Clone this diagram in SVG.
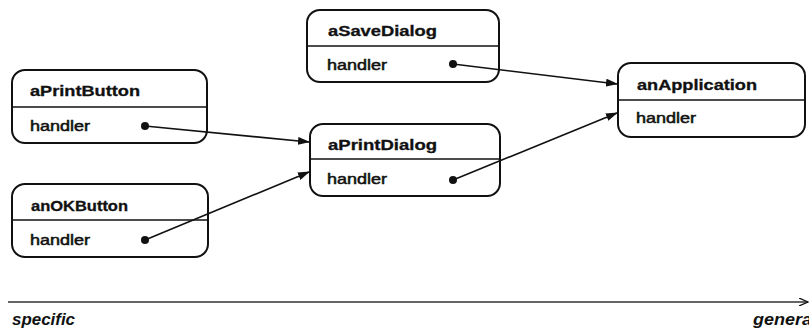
<svg xmlns="http://www.w3.org/2000/svg" width="809" height="331" viewBox="0 0 809 331">
<style>
.box{fill:#fff;stroke:#111;stroke-width:2}
.div{stroke:#111;stroke-width:1.5}
.title{font-family:"Liberation Sans",Arial,sans-serif;font-weight:bold;font-size:14px;fill:#111;stroke:#111;stroke-width:0.3}
.attr{font-family:"Liberation Sans",Arial,sans-serif;font-size:14px;fill:#111;stroke:#111;stroke-width:0.5}
.dot{fill:#111}
.conn{stroke:#111;stroke-width:1.6;fill:none}
.axislbl{font-family:"Liberation Sans",Arial,sans-serif;font-weight:bold;font-style:italic;font-size:16px;fill:#111}
</style>
<defs>
<marker id="ah" markerWidth="12" markerHeight="8" refX="11" refY="4" orient="auto" markerUnits="userSpaceOnUse">
<path d="M0,0 L12,4 L0,8 Z" fill="#111"/>
</marker>
<marker id="ah2" markerWidth="10" markerHeight="8" refX="9" refY="4" orient="auto" markerUnits="userSpaceOnUse">
<path d="M0,0 L9,4 L0,8" fill="none" stroke="#111" stroke-width="1.3"/>
</marker>
</defs>
<rect width="809" height="331" fill="#fff"/>
<g id="aPrintButton">
<rect class="box" x="12" y="70" width="195" height="73" rx="13"/>
<line class="div" x1="12" y1="107" x2="207" y2="107"/>
<text class="title" x="30" y="96" textLength="110" lengthAdjust="spacingAndGlyphs">aPrintButton</text>
<text class="attr" x="30" y="131" textLength="60" lengthAdjust="spacingAndGlyphs">handler</text>
<circle class="dot" cx="145" cy="126" r="4"/>
</g>
<g id="anOKButton">
<rect class="box" x="12" y="184" width="196" height="73" rx="13"/>
<line class="div" x1="12" y1="220" x2="208" y2="220"/>
<text class="title" x="31" y="211" textLength="97" lengthAdjust="spacingAndGlyphs">anOKButton</text>
<text class="attr" x="30" y="245" textLength="60" lengthAdjust="spacingAndGlyphs">handler</text>
<circle class="dot" cx="145" cy="240" r="4"/>
</g>
<g id="aSaveDialog">
<rect class="box" x="307" y="10" width="192" height="72" rx="13"/>
<line class="div" x1="307" y1="46" x2="499" y2="46"/>
<text class="title" x="328" y="36" textLength="109" lengthAdjust="spacingAndGlyphs">aSaveDialog</text>
<text class="attr" x="327" y="70" textLength="60" lengthAdjust="spacingAndGlyphs">handler</text>
<circle class="dot" cx="453" cy="64" r="4"/>
</g>
<g id="aPrintDialog">
<rect class="box" x="310" y="124" width="190" height="72" rx="13"/>
<line class="div" x1="310" y1="159" x2="500" y2="159"/>
<text class="title" x="328" y="150" textLength="109" lengthAdjust="spacingAndGlyphs">aPrintDialog</text>
<text class="attr" x="327" y="184" textLength="60" lengthAdjust="spacingAndGlyphs">handler</text>
<circle class="dot" cx="453" cy="180" r="4"/>
</g>
<g id="anApplication">
<rect class="box" x="618" y="63" width="187" height="74" rx="13"/>
<line class="div" x1="618" y1="100" x2="805" y2="100"/>
<text class="title" x="637" y="90" textLength="120" lengthAdjust="spacingAndGlyphs">anApplication</text>
<text class="attr" x="636" y="123" textLength="60" lengthAdjust="spacingAndGlyphs">handler</text>
</g>
<g id="connectors">
<line class="conn" x1="145" y1="126" x2="309" y2="142" marker-end="url(#ah)"/>
<line class="conn" x1="145" y1="240" x2="309" y2="172" marker-end="url(#ah)"/>
<line class="conn" x1="453" y1="64" x2="617" y2="84" marker-end="url(#ah)"/>
<line class="conn" x1="453" y1="180" x2="617" y2="113" marker-end="url(#ah)"/>
</g>
<g id="axis">
<line x1="8" y1="302" x2="808" y2="302" stroke="#333" stroke-width="1.3" marker-end="url(#ah2)"/>
<text class="axislbl" x="12" y="325" textLength="63" lengthAdjust="spacingAndGlyphs">specific</text>
<text class="axislbl" x="753" y="325" textLength="64" lengthAdjust="spacingAndGlyphs">general</text>
</g>
</svg>
